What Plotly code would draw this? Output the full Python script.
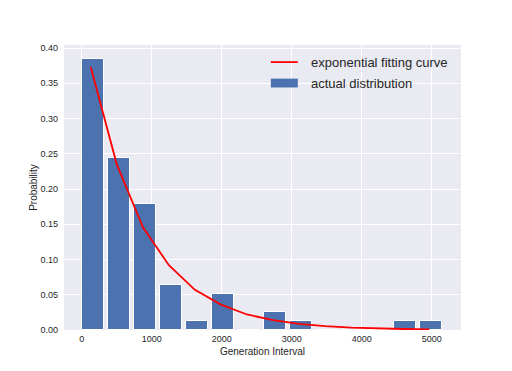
import plotly.graph_objects as go

# histogram of generation intervals (bin centres and probabilities)
bin_centers = [164, 535, 907, 1278, 1650, 2021, 2393, 2764, 3135, 3507, 3878, 4250, 4621, 4993]
probability = [0.385, 0.244, 0.179, 0.064, 0.013, 0.051, 0.0, 0.026, 0.013, 0.0, 0.0, 0.0, 0.013, 0.013]
bar_width = 315

# exponential fit
fit_x = [129, 501, 873, 1245, 1617, 1989, 2361, 2733, 3105, 3477, 3849, 4221, 4593, 4966]
fit_y = [0.373, 0.235, 0.146, 0.092, 0.057, 0.036, 0.022, 0.014, 0.0088, 0.0055, 0.0035, 0.0022, 0.0014, 0.0009]

x_ticks = [0, 1000, 2000, 3000, 4000, 5000]
y_ticks = [0.0, 0.05, 0.10, 0.15, 0.20, 0.25, 0.30, 0.35, 0.40]

BAR_COL = "#4C72B0"
BG = "#EAEAF2"
FONT = "Liberation Sans, Arial, sans-serif"

fig = go.Figure()
fig.add_trace(go.Bar(x=bin_centers, y=probability, width=bar_width,
                     marker=dict(color=BAR_COL, line=dict(color="white", width=1)),
                     name="actual distribution", showlegend=False))
fig.add_trace(go.Scatter(x=fit_x, y=fit_y, mode="lines",
                         line=dict(color="red", width=1.8),
                         name="exponential fitting curve", showlegend=False))

# legend drawn by hand to get matplotlib-like patches
fig.add_shape(type="line", xref="paper", yref="paper", x0=0.521, x1=0.589, y0=0.940, y1=0.940,
              line=dict(color="red", width=1.8))
fig.add_shape(type="rect", xref="paper", yref="paper", x0=0.521, x1=0.589, y0=0.851, y1=0.882,
              fillcolor=BAR_COL, line=dict(width=0))
for txt, yy in [("exponential fitting curve", 0.940), ("actual distribution", 0.866)]:
    fig.add_annotation(text=txt, xref="paper", yref="paper", x=0.617, y=yy,
                       xanchor="left", yanchor="middle", showarrow=False,
                       font=dict(size=13, color="#262626", family=FONT))

# page body has an 8px margin, so the figure is shrunk by that much
fig.update_layout(
    width=504, height=363,
    margin=dict(l=56, r=51, t=37, b=41),
    paper_bgcolor="white", plot_bgcolor=BG,
    font=dict(family=FONT, size=9, color="#262626"),
    bargap=0,
)
fig.update_xaxes(range=[-253, 5418], tickvals=x_ticks, showgrid=True, gridcolor="white",
                 gridwidth=1, zeroline=False, ticks="", showline=False, ticklabelstandoff=2,
                 title=dict(text="Generation Interval", font=dict(size=10), standoff=4))
fig.update_yaxes(range=[0, 0.4043], tickvals=y_ticks, tickformat=".2f", showgrid=True,
                 gridcolor="white", gridwidth=1, zeroline=False, ticks="", showline=False,
                 ticklabelstandoff=5,
                 title=dict(text="Probability", font=dict(size=10), standoff=0))

fig.write_html("out.html")
